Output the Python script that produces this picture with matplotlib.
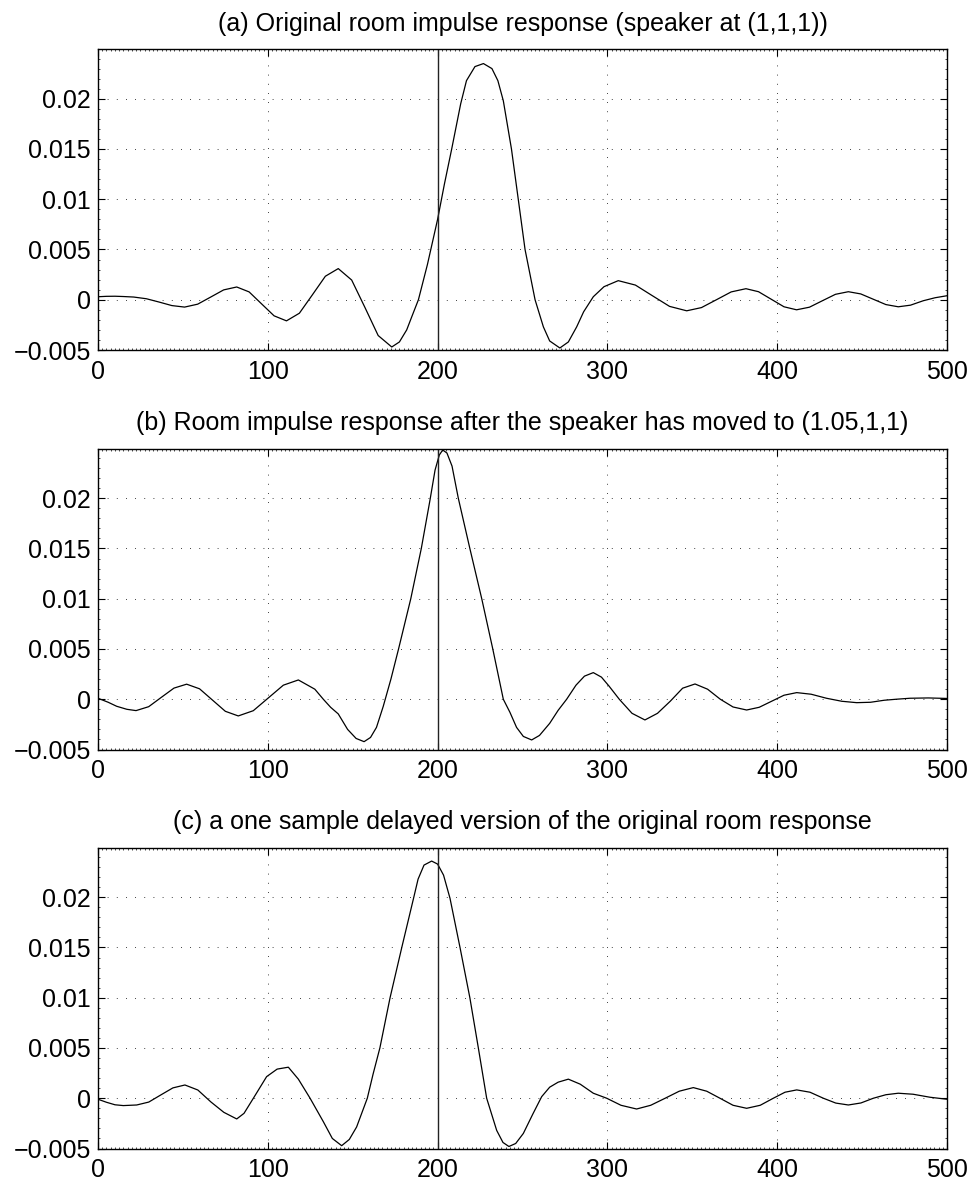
import matplotlib
matplotlib.use('Agg')
import matplotlib.pyplot as plt
from matplotlib.ticker import FuncFormatter, MultipleLocator

plt.rcParams['font.family'] = ['Liberation Sans', 'DejaVu Sans']

# values (sample index, amplitude)
titles = [
    '(a) Original room impulse response (speaker at (1,1,1))',
    '(b) Room impulse response after the speaker has moved to (1.05,1,1)',
    '(c) a one sample delayed version of the original room response',
]

orig_x = [0, 5, 10, 15, 21, 28.5, 36, 43.5, 51, 58.7, 66.4, 74, 81.7, 89,
          96.4, 103.7, 111, 118.6, 126.3, 133.9, 141.5, 149.4, 157.3, 165,
          173, 177.5, 181.8, 185, 188.7, 194, 200, 204, 208.3, 213.6, 217,
          222, 227, 232, 235.5, 238.7, 243.5, 247.5, 251.5, 257.4, 262.3, 266,
          272, 277, 281.9, 286, 291.7, 298, 306.4, 316.5, 326.5, 336.6, 346.7,
          355.4, 364.2, 372.9, 381.6, 389, 396.5, 404, 411.4, 419, 426.6,
          434.3, 441.9, 449.2, 456.6, 464, 471.3, 478.5, 486, 493, 500]
orig_y = [0.0003, 0.00034, 0.00035, 0.00032, 0.00027, 0.0001, -0.00023,
          -0.00058, -0.00073, -0.00044, 0.00027, 0.00098, 0.00127, 0.00078,
          -0.00042, -0.0016, -0.0021, -0.00134, 0.0005, 0.00234, 0.0031,
          0.00196, -0.0008, -0.00356, -0.0047, -0.0042, -0.003, -0.0016, 0.0,
          0.0035, 0.008, 0.0115, 0.015, 0.0195, 0.0218, 0.0232, 0.0235, 0.023,
          0.0218, 0.0198, 0.015, 0.01, 0.005, 0.0, -0.0027, -0.0041, -0.0048,
          -0.0042, -0.0027, -0.0012, 0.0003, 0.0013, 0.0019, 0.00146, 0.0004,
          -0.00066, -0.0011, -0.00078, 0.0, 0.00078, 0.0011, 0.0008, 0.00005,
          -0.0007, -0.001, -0.00074, -0.0001, 0.00054, 0.0008, 0.00058,
          0.00005, -0.00048, -0.0007, -0.00054, -0.0001, 0.0002, 0.0004]

moved_x = [0, 6, 11, 17, 22.4, 29.85, 37.3, 44.75, 52.2, 59.8, 67.4, 75,
           82.6, 91.45, 100.3, 109.15, 118, 127.7, 132.7, 137, 141.5, 147,
           152, 156.7, 160.5, 164, 168, 172.5, 177, 184.2, 190.4, 195.5,
           198.5, 201, 203, 205.5, 208.5, 212.2, 219, 226, 232.5, 238.7,
           242.6, 246.5, 250.5, 255.4, 260, 266, 271, 276, 281.5, 286.5,
           291.7, 296.5, 301, 307, 314.5, 322.1, 329.5, 337, 344.3, 351.6,
           359, 366.5, 374, 382, 389.4, 396.7, 404, 411.5, 420, 429, 438,
           446.8, 455, 463, 470, 478.2, 489, 500]
moved_y = [0.0001, -0.0003, -0.0007, -0.001, -0.00113, -0.00074, 0.00019,
           0.00111, 0.0015, 0.00104, -0.00008, -0.0012, -0.00166, -0.00114,
           0.00013, 0.0014, 0.00192, 0.001, 0.0, -0.0008, -0.00146, -0.003,
           -0.0039, -0.00422, -0.0038, -0.0028, -0.0007, 0.002, 0.005, 0.01,
           0.015, 0.0198, 0.0228, 0.0243, 0.0248, 0.0245, 0.0232, 0.02, 0.015,
           0.01, 0.005, 0.0, -0.0013, -0.0028, -0.0037, -0.00405, -0.0036,
           -0.0024, -0.0011, 0.0, 0.0014, 0.0023, 0.00265, 0.0022, 0.0013, 0.0,
           -0.0014, -0.00206, -0.0014, -0.0002, 0.0011, 0.00152, 0.001, 0.0,
           -0.00077, -0.00107, -0.0008, -0.0002, 0.0004, 0.00066, 0.0005,
           0.0001, -0.0002, -0.00034, -0.0003, -0.0001, 0.0, 0.0001, 0.00013,
           0.00008]

delayed_x = [0, 5, 10, 14.9, 22.8, 29.9, 37, 44.1, 51.2, 58.8, 66.5, 74.1,
             81.7, 86, 91.5, 99.3, 105.5, 112.1, 118, 124.9, 132.7, 138, 143.5,
             148, 152.3, 158.6, 162, 166, 172, 178.9, 185.7, 188.5, 192, 196.5,
             200, 203.5, 207.3, 213.2, 219, 224, 228.9, 234.8, 238.5, 242, 246,
             250.5, 256, 261.3, 266, 271, 277, 284, 291.7, 299.6, 308, 317.2,
             325.5, 334, 342.3, 350.6, 358.5, 366.3, 374, 382, 390, 397.7,
             404.6, 411.5, 419.3, 427.2, 434.5, 441.9, 449.3, 456.6, 464,
             471.3, 480, 490, 500]
delayed_y = [-0.0001, -0.0004, -0.00065, -0.00073, -0.00067, -0.00038,
             0.00033, 0.00103, 0.00132, 0.00082, -0.00037, -0.0014, -0.00206,
             -0.0015, 0.0, 0.00215, 0.0029, 0.00309, 0.0019, 0.0, -0.00233,
             -0.004, -0.00472, -0.0041, -0.00286, 0.0, 0.0024, 0.005, 0.01,
             0.015, 0.0198, 0.0218, 0.0232, 0.0236, 0.0233, 0.0222, 0.0199,
             0.015, 0.01, 0.005, 0.0, -0.0032, -0.0044, -0.0048, -0.0045,
             -0.0035, -0.0016, 0.00016, 0.0011, 0.0016, 0.0019, 0.0014, 0.0005,
             0.0, -0.0007, -0.00107, -0.0007, 0.0, 0.0007, 0.00106, 0.0007, 0.0,
             -0.0007, -0.001, -0.0007, 0.0, 0.0006, 0.00083, 0.0006, 0.0,
             -0.00048, -0.00067, -0.00047, 0.0, 0.00035, 0.0005, 0.0004,
             0.0001, -0.0001]

marker_x = 200
x_ticks = [0, 100, 200, 300, 400, 500]
y_ticks = [-0.005, 0, 0.005, 0.01, 0.015, 0.02]


def ytick_fmt(v, pos):
    s = '%g' % round(v, 4)
    return s.replace('-', '\u2212')


def draw_panel(ax, xs, ys, title):
    ax.plot(xs, ys, color='k', lw=0.9)
    ax.axvline(marker_x, color='#222222', lw=1.0)
    ax.set_xlim(0, 500)
    ax.set_ylim(-0.005, 0.02495)
    ax.set_xticks(x_ticks)
    ax.set_yticks(y_ticks)
    ax.yaxis.set_major_formatter(FuncFormatter(ytick_fmt))
    ax.xaxis.set_minor_locator(MultipleLocator(2.5))
    ax.yaxis.set_minor_locator(MultipleLocator(0.001))
    ax.tick_params(which='both', direction='in', top=True, right=True,
                   labelsize=18, width=0.8)
    ax.tick_params(which='major', length=5)
    ax.tick_params(which='minor', length=1.5, width=0.5)
    ax.tick_params(axis='x', pad=7)
    ax.tick_params(axis='y', pad=5)
    ax.grid(True, which='major', color='k', lw=0.6, linestyle=(0, (1, 10)))
    for sp in ax.spines.values():
        sp.set_linewidth(1.0)
    ax.set_title(title, fontsize=18, pad=13)


fig = plt.figure(figsize=(9.72, 11.86), dpi=100)
left = 98 / 972
width = 849 / 972
height = 301 / 1186
bottoms = [(1186 - 350) / 1186, (1186 - 749.5) / 1186, (1186 - 1148.5) / 1186]

series = [(orig_x, orig_y), (moved_x, moved_y), (delayed_x, delayed_y)]
for (xs, ys), b, t in zip(series, bottoms, titles):
    ax = fig.add_axes([left, b, width, height])
    draw_panel(ax, xs, ys, t)

fig.savefig('out.png', dpi=100)
